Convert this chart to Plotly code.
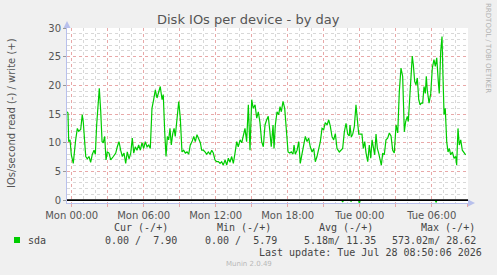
import plotly.graph_objects as go

# ---- data (hours since Mon 00:00) ----
hours = [-0.42, -0.31, -0.25, -0.14, -0.03, 0.13, 0.33, 0.47, 0.58, 0.75, 0.88, 0.97, 1.08, 1.17, 1.30, 1.44,
         1.58, 1.72, 1.86, 1.97, 2.08, 2.19, 2.30, 2.42, 2.53, 2.63, 2.75, 2.86, 2.97, 3.11, 3.25, 3.47,
         3.67, 3.80, 3.94, 4.08, 4.22, 4.36, 4.50, 4.63, 4.78, 4.92, 5.05, 5.17, 5.30, 5.44, 5.58, 5.72,
         5.86, 6.00, 6.13, 6.28, 6.42, 6.55, 6.69, 6.83, 6.97, 7.11, 7.25, 7.38, 7.53, 7.63, 7.75, 7.86,
         7.97, 8.08, 8.19, 8.30, 8.42, 8.53, 8.63, 8.78, 8.92, 9.05, 9.19, 9.33, 9.47, 9.61, 9.75, 9.88,
         10.03, 10.17, 10.30, 10.44, 10.58, 10.72, 10.83, 10.97, 11.11, 11.25, 11.38, 11.53, 11.67, 11.80,
         11.94, 12.08, 12.22, 12.36, 12.50, 12.63, 12.78, 12.92, 13.05, 13.19, 13.33, 13.47, 13.61, 13.75,
         13.88, 14.03, 14.17, 14.30, 14.44, 14.58, 14.72, 14.86, 15.00, 15.13, 15.28, 15.42, 15.55, 15.69,
         15.83, 15.97, 16.11, 16.25, 16.38, 16.50, 16.63, 16.78, 16.86, 16.97, 17.11, 17.25, 17.36, 17.47,
         17.61, 17.75, 17.88, 18.03, 18.17, 18.30, 18.44, 18.53, 18.63, 18.78, 18.92, 19.05, 19.19, 19.33,
         19.47, 19.61, 19.75, 19.88, 20.03, 20.17, 20.30, 20.44, 20.58, 20.72, 20.86, 21.00, 21.13, 21.28,
         21.42, 21.55, 21.69, 21.83, 21.97, 22.11, 22.30, 22.44, 22.58, 22.72, 22.86, 23.00, 23.13, 23.19,
         23.30, 23.42, 23.55, 23.69, 23.80, 23.92, 24.03, 24.19, 24.30, 24.42, 24.53, 24.67, 24.80, 24.92,
         25.03, 25.13, 25.25, 25.36, 25.47, 25.58, 25.69, 25.80, 25.92, 26.05, 26.19, 26.33, 26.47, 26.61,
         26.75, 26.88, 27.03, 27.17, 27.30, 27.44, 27.58, 27.72, 27.83, 27.97, 28.05, 28.19, 28.30, 28.38,
         28.47, 28.58, 28.69, 28.80, 28.92, 29.03, 29.13, 29.25, 29.36, 29.47, 29.55, 29.63, 29.78, 29.92,
         30.05, 30.19, 30.30, 30.42, 30.55, 30.63, 30.75, 30.86, 30.94, 31.03, 31.13, 31.25, 31.36, 31.47,
         31.58, 31.72, 31.86, 32.00, 32.08, 32.19, 32.30, 32.42, 32.55, 32.69, 32.83]

write_vals = [15.4, 15.2, 10.2, 10.5, 7.9, 6.4, 10.5, 12.5, 12.0, 12.3, 14.9, 13.5, 10.2, 7.6, 7.2, 7.6,
              6.6, 8.0, 8.7, 8.0, 13.1, 16.3, 19.5, 15.4, 10.2, 10.0, 11.1, 7.0, 8.4, 8.2, 7.0, 7.6,
              8.2, 9.3, 10.2, 8.7, 7.6, 8.2, 6.4, 8.4, 7.2, 8.2, 10.8, 8.2, 9.3, 8.7, 9.6, 8.7,
              10.0, 9.0, 10.2, 9.3, 9.6, 9.0, 16.0, 17.5, 19.2, 17.8, 18.7, 19.8, 17.5, 18.4, 11.9, 7.6,
              11.1, 10.5, 12.5, 9.6, 11.6, 12.5, 11.1, 14.0, 17.2, 14.3, 8.4, 8.7, 8.2, 8.4, 8.0, 9.6,
              10.2, 11.1, 10.2, 11.4, 10.5, 10.0, 8.7, 8.7, 8.4, 8.0, 8.4, 8.0, 8.7, 8.2,
              7.0, 6.7, 6.7, 6.4, 6.7, 6.1, 7.0, 6.1, 7.3, 6.6, 7.6, 6.4, 8.2, 10.2,
              9.3, 10.5, 10.0, 11.1, 12.5, 10.2, 16.6, 8.7, 17.5, 16.0, 16.6, 14.3, 15.4, 13.5,
              10.2, 9.3, 13.1, 14.0, 14.6, 12.3, 9.3, 13.1, 9.0, 13.1, 15.4, 14.9, 16.3, 15.4,
              17.2, 16.0, 12.5, 8.4, 8.2, 8.4, 8.0, 9.6, 8.0, 8.7, 10.2, 6.4, 8.0, 9.6,
              11.1, 10.2, 10.8, 9.3, 8.4, 9.0, 6.7, 7.6, 9.0, 10.2, 12.5, 12.3, 13.5, 13.1,
              14.0, 12.9, 11.1, 10.5, 11.6, 9.0, 8.4, 8.7, 9.0, 11.9, 13.4, 11.5, 11.2, 13.1,
              11.0, 11.5, 12.8, 16.6, 14.3, 11.5, 11.5, 11.5, 9.0, 10.2, 8.2, 6.7, 9.6, 7.3,
              10.5, 9.0, 7.9, 11.5, 9.0, 8.2, 7.0, 6.1, 8.2, 7.9, 10.5, 10.8, 11.7, 11.2,
              8.7, 8.2, 13.1, 11.7, 18.9, 23.0, 21.6, 11.9, 13.7, 14.6, 13.7, 18.9, 23.0, 25.1,
              23.6, 20.7, 20.1, 21.3, 17.5, 16.6, 16.9, 16.9, 19.8, 18.6, 21.6, 19.2, 16.9, 18.6,
              23.0, 24.5, 23.3, 24.8, 20.7, 18.6, 25.9, 28.5, 21.6, 14.9, 16.0, 10.2, 8.4, 9.0,
              7.9, 8.4, 7.3, 7.6, 6.1, 12.5, 9.6, 10.5, 8.7, 8.2, 7.9]

read_hours = [22.50, 22.58, 22.66, None, 23.20, 23.28, 23.36, None, 23.90, 23.97, 24.05, None, 30.30, 30.36, 30.44]
read_vals = [0.0, -0.30, 0.0, None, 0.0, -0.20, 0.0, None, 0.0, -0.57, 0.0, None, 0.0, -0.40, 0.0]

x_tick_hours = [0, 3, 6, 9, 12, 15, 18, 21, 24, 27, 30, 33]
x_tick_labels = ["Mon 00:00", "", "Mon 06:00", "", "Mon 12:00", "", "Mon 18:00", "",
                 "Tue 00:00", "", "Tue 06:00", ""]
y_ticks = [0, 5, 10, 15, 20, 25, 30]

legend_headers = ["Cur (-/+)", "Min (-/+)", "Avg (-/+)", "Max (-/+)"]
legend_values = ["0.00 /  7.90", "0.00 /  5.79", "5.18m/ 11.35", "573.02m/ 28.62"]
series_name = "sda"
title = "Disk IOs per device - by day"
y_title = "IOs/second read (-) / write (+)"
last_update = "Last update: Tue Jul 28 08:50:06 2026"

# ---- layout geometry (pixels) ----
W, H = 497, 275
L, R, T, B = 67, 29, 28, 72
PW, PH = W - L - R, H - T - B
GREEN = "#00cc00"
TXT = "#555555"


def px(xp):
    return (xp - L) / PW


def py(yp):
    return (H - B - yp) / PH


fig = go.Figure()
fig.add_trace(go.Scatter(x=read_hours, y=read_vals, mode="lines",
                         line=dict(color=GREEN, width=1.2), hoverinfo="skip",
                         showlegend=False, connectgaps=False))
fig.add_trace(go.Scatter(x=hours, y=write_vals, mode="lines",
                         line=dict(color=GREEN, width=1.2), name=series_name,
                         showlegend=False))

mono = "DejaVu Sans Mono"
annotations = []
# title
annotations.append(dict(text=title, x=px(248), y=py(19), xref="paper", yref="paper",
                        showarrow=False, font=dict(family="DejaVu Sans", size=13, color=TXT),
                        xanchor="center", yanchor="middle"))
# y title
annotations.append(dict(text=y_title, x=px(11), y=py(113), xref="paper", yref="paper",
                        showarrow=False, textangle=-90,
                        font=dict(family="DejaVu Sans", size=10, color=TXT),
                        xanchor="center", yanchor="middle"))
# rrdtool credit
annotations.append(dict(text="RRDTOOL / TOBI OETIKER", x=px(488), y=py(48), xref="paper",
                        yref="paper", showarrow=False, textangle=90,
                        font=dict(family="DejaVu Sans", size=7, color="#b0b0b0"),
                        xanchor="center", yanchor="middle"))
# legend headers / values
header_right = [169, 272, 374, 476]
value_right = [178, 278, 377, 477]
for hx, hdr in zip(header_right, legend_headers):
    annotations.append(dict(text=hdr, x=px(hx + 1), y=py(227), xref="paper", yref="paper",
                            showarrow=False, font=dict(family=mono, size=10, color="#444444"),
                            xanchor="right", yanchor="middle"))
for vx, val in zip(value_right, legend_values):
    annotations.append(dict(text=val, x=px(vx + 1), y=py(240), xref="paper", yref="paper",
                            showarrow=False, font=dict(family=mono, size=10, color="#444444"),
                            xanchor="right", yanchor="middle"))
annotations.append(dict(text=series_name, x=px(26), y=py(240), xref="paper", yref="paper",
                        showarrow=False, font=dict(family=mono, size=10, color="#444444"),
                        xanchor="left", yanchor="middle"))
annotations.append(dict(text=last_update, x=px(484), y=py(252), xref="paper", yref="paper",
                        showarrow=False, font=dict(family=mono, size=10, color="#444444"),
                        xanchor="right", yanchor="middle"))
annotations.append(dict(text="Munin 2.0.49", x=px(249), y=py(264), xref="paper", yref="paper",
                        showarrow=False, font=dict(family="DejaVu Sans", size=7, color="#b8b8b8"),
                        xanchor="center", yanchor="middle"))

AX = "#b8c0ec"
shapes = [
    # zero rule
    dict(type="line", xref="paper", yref="y", x0=0, x1=1, y0=0, y1=0,
         line=dict(color="#000000", width=1.6), layer="above"),
    # legend colour box
    dict(type="rect", xref="paper", yref="paper", x0=px(14), x1=px(20), y0=py(243), y1=py(237),
         fillcolor=GREEN, line=dict(width=0)),
    # axis arrows
    dict(type="path", xref="paper", yref="paper",
         path=f"M {px(67)} {py(21)} L {px(63.5)} {py(28)} L {px(70.5)} {py(28)} Z",
         fillcolor=AX, line=dict(width=0)),
    dict(type="path", xref="paper", yref="paper",
         path=f"M {px(475)} {py(203)} L {px(468)} {py(199.5)} L {px(468)} {py(206.5)} Z",
         fillcolor=AX, line=dict(width=0)),
]

x0h = (L - 71.7) / 12.0
x1h = x0h + PW / 12.0

fig.update_layout(
    width=W, height=H,
    margin=dict(l=L, r=R, t=T, b=B, pad=0),
    paper_bgcolor="#f0f0f0", plot_bgcolor="#ffffff",
    showlegend=False,
    annotations=annotations, shapes=shapes,
    font=dict(family="DejaVu Sans", size=10, color=TXT),
    xaxis=dict(range=[x0h, x1h], tickmode="array", tickvals=x_tick_hours, ticktext=x_tick_labels,
               showgrid=True, gridcolor="#e8a8a8", griddash="dot", gridwidth=1,
               ticks="outside", ticklen=3, tickcolor="#e8a8a8",
               tickfont=dict(family="DejaVu Sans", size=10, color=TXT),
               showline=True, linecolor=AX, linewidth=1, zeroline=False,
               minor=dict(dtick=1, showgrid=True, gridcolor="#d8d8d8", griddash="dot", gridwidth=1),
               fixedrange=True),
    yaxis=dict(range=[-0.5, 30], tickmode="array", tickvals=y_ticks,
               showgrid=True, gridcolor="#e8a8a8", griddash="dot", gridwidth=1,
               ticks="outside", ticklen=3, tickcolor="#999999",
               tickfont=dict(family="DejaVu Sans", size=10, color=TXT),
               showline=True, linecolor=AX, linewidth=1, zeroline=False,
               minor=dict(dtick=1, tick0=0, showgrid=True, gridcolor="#d8d8d8", griddash="dot",
                          gridwidth=1),
               fixedrange=True),
)

fig.write_html("out.html")
